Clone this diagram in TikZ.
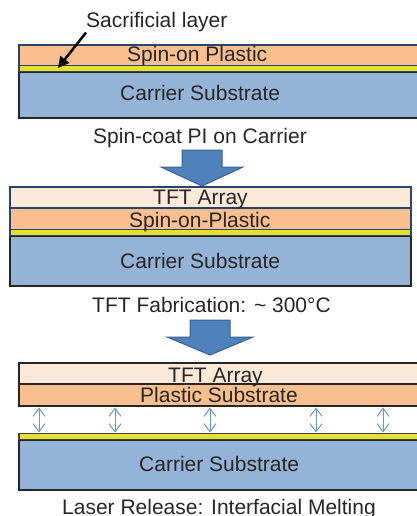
\documentclass[tikz,border=0pt]{standalone}
\usepackage{fontspec}
\setmainfont{Liberation Sans}
\usetikzlibrary{arrows.meta}

\definecolor{plastic}{HTML}{F9BF8F}
\definecolor{tftcol}{HTML}{FDE9DA}
\definecolor{carrier}{HTML}{95B3D7}
\definecolor{sacri}{HTML}{E8E030}
\definecolor{navy}{HTML}{2A4466}
\definecolor{stepblue}{HTML}{4F81BD}
\definecolor{stepedge}{HTML}{3A5F8F}
\definecolor{gapblue}{HTML}{6A96CC}

\tikzset{
  lbl/.style={anchor=base west, inner sep=0pt, font=\fontsize{21}{25}\selectfont, text=black!85},
  layer/.style={line width=1.8pt, draw=navy},
  steparrow/.style={fill=stepblue, draw=stepedge, line width=1pt},
  gap/.style={gapblue, line width=1pt,
    {Straight Barb[length=8pt,width=12pt]}-{Straight Barb[length=8pt,width=12pt]}}
}

\begin{document}
\begin{tikzpicture}[x=1pt, y=-1pt]
    \useasboundingbox (0,0) rectangle (416,516);

    % step 1: spin-coat
    \draw[layer, fill=carrier, draw=black!85] (19,72) rectangle (420,118);
    \draw[layer, fill=sacri] (19,65.5) rectangle (420,71.5);
    \draw[layer, fill=plastic] (19,45) rectangle (420,65.5);
    \node[lbl] (sacLbl) at (86,28) {Sacrificial layer};
    \node[lbl] (plastic1) at (127,62) {Spin-on Plastic};
    \node[lbl] (carrier1) at (120,101) {Carrier Substrate};
    \node[lbl] (step1) at (93,143) {Spin-coat PI on Carrier};
    \coordinate (sacTip) at (58,68);
    \draw[line width=2.5pt, -{Triangle[length=11pt,width=11pt]}] (sacLbl.south west) -- (sacTip);

    \draw[steparrow] (182,150) -- (222,150) -- (222,167) -- (243,167) -- (202,186)
        -- (161,167) -- (182,167) -- cycle;

    % step 2: TFT fabrication
    \draw[layer, fill=carrier, draw=black!85] (10,236) rectangle (411,286);
    \draw[layer, fill=sacri] (10,229.5) rectangle (411,235.5);
    \draw[layer, fill=plastic] (10,208) rectangle (411,229.5);
    \draw[layer, fill=tftcol] (10,187) rectangle (411,208);
    \node[lbl] (tft2) at (153,204) {TFT Array};
    \node[lbl] (plastic2) at (129,227) {Spin-on-Plastic};
    \node[lbl] (carrier2) at (120,268) {Carrier Substrate};
    \node[lbl] (step2) at (92,312) {TFT Fabrication: \textasciitilde{} 300°C};

    \draw[steparrow] (190,320) -- (230,320) -- (230,337) -- (253,337) -- (210,355)
        -- (167,337) -- (190,337) -- cycle;

    % step 3: laser release
    \draw[layer, fill=carrier, draw=black!85] (19,440) rectangle (420,490);
    \draw[layer, fill=sacri, draw=black!75] (19,433.5) rectangle (420,439.5);
    \draw[layer, fill=plastic, draw=black!85] (19,384) rectangle (420,406);
    \draw[layer, fill=tftcol, draw=black!85] (19,363) rectangle (420,384);
    \node[lbl] (tft3) at (168,382) {TFT Array};
    \node[lbl] (plastic3) at (140,402) {Plastic Substrate};
    \node[lbl] (carrier3) at (139,471) {Carrier Substrate};
    \node[lbl] (step3) at (62,514) {Laser Release: Interfacial Melting};

    \foreach \gx in {39,115,210,316,383}
        \draw[gap] (\gx,407.5) -- (\gx,432.5);
\end{tikzpicture}
\end{document}
